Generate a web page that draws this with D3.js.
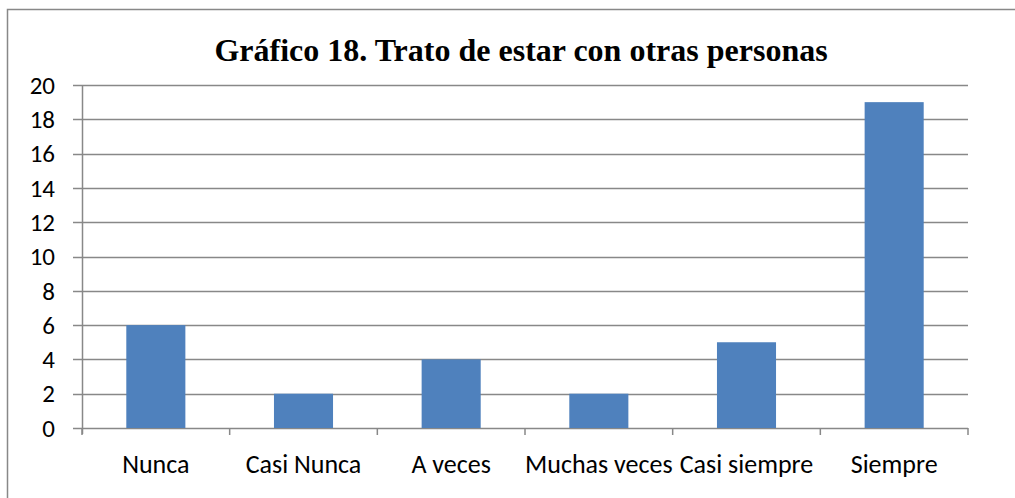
<!DOCTYPE html>
<html>
<head>
<meta charset="utf-8">
<script src="https://cdn.jsdelivr.net/npm/d3@7"></script>
<style>
  html, body { margin: 0; padding: 0; background: #fff; }
  svg { display: block; }
</style>
</head>
<body>
<svg id="chart"></svg>
<script>
const categories = ['Nunca', 'Casi Nunca', 'A veces', 'Muchas veces', 'Casi siempre', 'Siempre'];
const values = [6, 2, 4, 2, 5, 19];
const yTicks = [0, 2, 4, 6, 8, 10, 12, 14, 16, 18, 20];
const title = 'Gráfico 18. Trato de estar con otras personas';

const W = 1015, H = 498;
const margin = {left: 82, right: 47, top: 85, bottom: 70};

const svg = d3.select('#chart').attr('width', W).attr('height', H);

// outer frame (only left/top visible in the crop)
svg.append('rect')
  .attr('x', 7.5).attr('y', 9.5)
  .attr('width', W + 20).attr('height', H + 20)
  .attr('fill', 'none').attr('stroke', '#888').attr('stroke-width', 1.5);

svg.append('text')
  .attr('x', 521).attr('y', 61)
  .attr('text-anchor', 'middle')
  .attr('font-family', '"Liberation Serif", "Times New Roman", serif')
  .attr('font-weight', 'bold')
  .attr('font-size', 32)
  .text(title);

const x = d3.scaleBand()
  .domain(categories)
  .range([margin.left, W - margin.right])
  .paddingInner(0.6).paddingOuter(0.3);

const y = d3.scaleLinear()
  .domain([0, 20])
  .range([H - margin.bottom, margin.top]);

const grid = '#888';

// gridlines + y ticks
svg.append('g')
  .selectAll('line')
  .data(yTicks)
  .join('line')
  .attr('x1', margin.left - 9).attr('x2', W - margin.right)
  .attr('y1', d => Math.round(y(d)) + 0.5).attr('y2', d => Math.round(y(d)) + 0.5)
  .attr('stroke', grid).attr('stroke-width', 1.5);

// bars
svg.append('g')
  .selectAll('rect')
  .data(values)
  .join('rect')
  .attr('x', (d, i) => x(categories[i]))
  .attr('width', x.bandwidth())
  .attr('y', d => y(d))
  .attr('height', d => y(0) - y(d))
  .attr('fill', '#4F81BD');

// y axis line
svg.append('line')
  .attr('x1', margin.left + 0.5).attr('x2', margin.left + 0.5)
  .attr('y1', y(20)).attr('y2', y(0) + 6)
  .attr('stroke', grid).attr('stroke-width', 1.5);

// x axis category ticks (at band boundaries)
const step = x.step();
const bounds = d3.range(categories.length + 1).map(i => margin.left + i * step);
svg.append('g')
  .selectAll('line')
  .data(bounds)
  .join('line')
  .attr('x1', d => d).attr('x2', d => d)
  .attr('y1', y(0)).attr('y2', y(0) + 7)
  .attr('stroke', grid).attr('stroke-width', 1.5);

const labelFont = 'Carlito, Lato, "Open Sans", sans-serif';

// y labels
svg.append('g')
  .selectAll('text')
  .data(yTicks)
  .join('text')
  .attr('x', 55).attr('y', d => y(d))
  .attr('dy', '0.35em')
  .attr('text-anchor', 'end')
  .attr('font-family', labelFont)
  .attr('font-size', 25)
  .text(d => d);

// x labels
svg.append('g')
  .selectAll('text')
  .data(categories)
  .join('text')
  .attr('x', d => x(d) + x.bandwidth() / 2)
  .attr('y', y(0) + 45)
  .attr('text-anchor', 'middle')
  .attr('font-family', labelFont)
  .attr('font-size', 26)
  .text(d => d);
</script>
</body>
</html>
